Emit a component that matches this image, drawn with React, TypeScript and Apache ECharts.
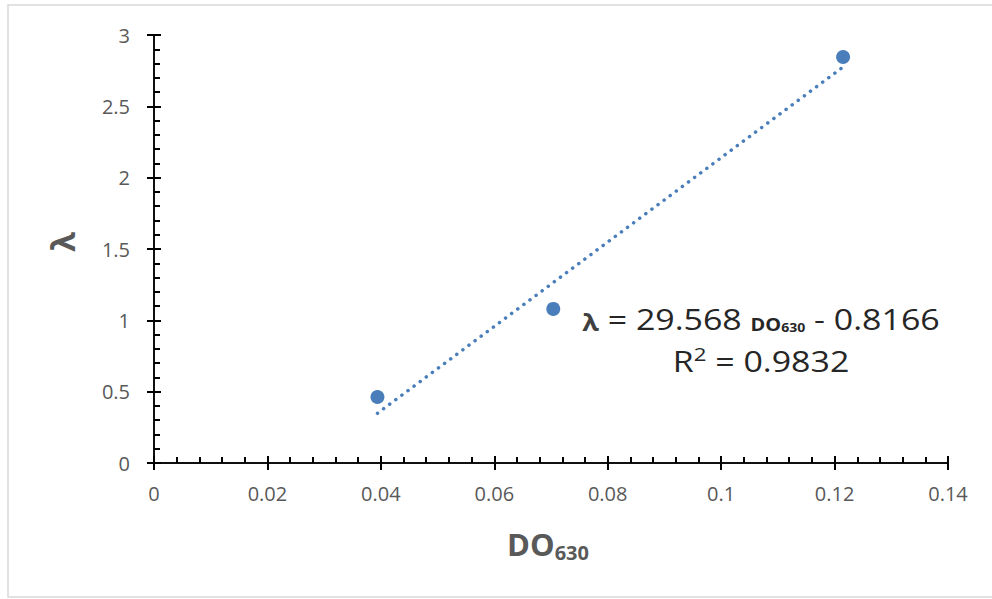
import React, { useEffect, useRef } from "react";
import * as echarts from "echarts";

const xValues = [0.0394, 0.0704, 0.1215];
const yValues = [0.463, 1.08, 2.846];
const slope = 29.568;
const intercept = -0.8166;
const rSquared = "0.9832";
const xTicks = { min: 0, max: 0.14, interval: 0.02 };
const yTicks = { min: 0, max: 3, interval: 0.5 };

const FONT = "'Open Sans', 'Liberation Sans', sans-serif";
const GRAY = "#595959";
const BLUE = "#4a7ebb";
const INK = "#262626";

export default function App() {
  const ref = useRef<HTMLDivElement>(null);
  useEffect(() => {
    if (!ref.current) return;
    const chart = echarts.init(ref.current, null, { renderer: "svg" });
    const points = xValues.map((x, i) => [x, yValues[i]]);
    const xLo = Math.min(...xValues);
    const xHi = Math.max(...xValues);
    const trend = [
      [xLo, slope * xLo + intercept],
      [xHi, slope * xHi + intercept],
    ];
    const baseX = {
      type: "value",
      min: xTicks.min,
      max: xTicks.max,
      interval: xTicks.interval,
      splitLine: { show: false },
      axisLine: { show: true, onZero: false, lineStyle: { color: "#000", width: 1.5 } },
    };
    const baseY = {
      type: "value",
      min: yTicks.min,
      max: yTicks.max,
      interval: yTicks.interval,
      splitLine: { show: false },
      axisLine: { show: true, onZero: false, lineStyle: { color: "#000", width: 1.5 } },
    };
    chart.setOption({
      animation: false,
      backgroundColor: "#fff",
      grid: { left: 154, right: 44, top: 35, bottom: 136 },
      xAxis: [
        {
          ...baseX,
          position: "bottom",
          axisTick: { show: true, inside: false, length: 7, lineStyle: { color: "#000", width: 2 } },
          minorTick: { show: false },
          axisLabel: {
            show: true,
            margin: 20,
            color: GRAY,
            fontFamily: FONT,
            fontSize: 20,
            formatter: (v: number) => String(+v.toFixed(2)),
          },
        },
        {
          ...baseX,
          position: "bottom",
          axisTick: { show: true, inside: true, length: 7, lineStyle: { color: "#000", width: 2 } },
          minorTick: { show: true, splitNumber: 5, length: 6, lineStyle: { color: "#000", width: 2 } },
          axisLabel: { show: false },
        },
      ],
      yAxis: [
        {
          ...baseY,
          position: "left",
          axisTick: { show: true, inside: false, length: 7, lineStyle: { color: "#000", width: 2 } },
          minorTick: { show: false },
          axisLabel: {
            show: true,
            margin: 24,
            color: GRAY,
            fontFamily: FONT,
            fontSize: 20,
            formatter: (v: number) => String(+v.toFixed(1)),
          },
        },
        {
          ...baseY,
          position: "left",
          axisTick: { show: true, inside: true, length: 7, lineStyle: { color: "#000", width: 2 } },
          minorTick: { show: true, splitNumber: 5, length: 6, lineStyle: { color: "#000", width: 2 } },
          axisLabel: { show: false },
        },
      ],
      series: [
        {
          type: "line",
          data: trend,
          xAxisIndex: 0,
          yAxisIndex: 0,
          symbol: "none",
          lineStyle: { color: BLUE, width: 3.5, type: [0.1, 7.5], cap: "round" },
          silent: true,
          z: 1,
        },
        {
          type: "scatter",
          data: points,
          xAxisIndex: 0,
          yAxisIndex: 0,
          symbolSize: 14,
          itemStyle: { color: BLUE, opacity: 1 },
          z: 3,
        },
      ],
      graphic: [
        {
          type: "rect",
          shape: { x: 8, y: 5, width: 1000, height: 592 },
          style: { fill: "none", stroke: "#d9d9d9", lineWidth: 1.5 },
          silent: true,
        },
        {
          type: "text",
          x: 62,
          y: 242,
          rotation: Math.PI / 2,
          style: {
            text: "λ",
            fontFamily: FONT,
            fontWeight: "bold",
            fontSize: 32,
            fill: GRAY,
            align: "center",
            verticalAlign: "middle",
          },
        },
        {
          type: "text",
          x: 548,
          y: 544,
          style: {
            text: "{a|DO}{b|630}",
            align: "center",
            verticalAlign: "middle",
            rich: {
              a: { fontFamily: FONT, fontWeight: "bold", fontSize: 31, fill: GRAY, color: GRAY, lineHeight: 36 },
              b: { fontFamily: FONT, fontWeight: "bold", fontSize: 20, fill: GRAY, color: GRAY, lineHeight: 22, verticalAlign: "bottom" },
            },
          },
        },
        {
          type: "text",
          x: 761,
          y: 333,
          scaleX: 1.17,
          style: {
            text:
              "{l|λ}{n| = " + slope.toFixed(3) + " }{d|DO}{s|630}{n| - " + Math.abs(intercept).toFixed(4) + "}\n{n|R}{sup|2}{n| = " + rSquared + "}",
            align: "center",
            verticalAlign: "middle",
            rich: {
              l: { fontFamily: FONT, fontWeight: "bold", fontSize: 23, fill: "#404040", color: "#404040", lineHeight: 38, verticalAlign: "bottom" },
              n: { fontFamily: FONT, fontSize: 29, fill: INK, color: INK, lineHeight: 42, verticalAlign: "bottom" },
              d: { fontFamily: FONT, fontWeight: "bold", fontSize: 17, fill: INK, color: INK, lineHeight: 34, verticalAlign: "bottom" },
              s: { fontFamily: FONT, fontWeight: "bold", fontSize: 12, fill: INK, color: INK, lineHeight: 22, verticalAlign: "bottom" },
              sup: { fontFamily: FONT, fontSize: 19, fill: INK, color: INK, lineHeight: 30, verticalAlign: "middle" },
            },
          },
        },
      ],
    });
    return () => chart.dispose();
  }, []);
  return (
    <div
      ref={ref}
      style={{ position: "absolute", left: 0, top: 0, width: 992, height: 599 }}
    />
  );
}
